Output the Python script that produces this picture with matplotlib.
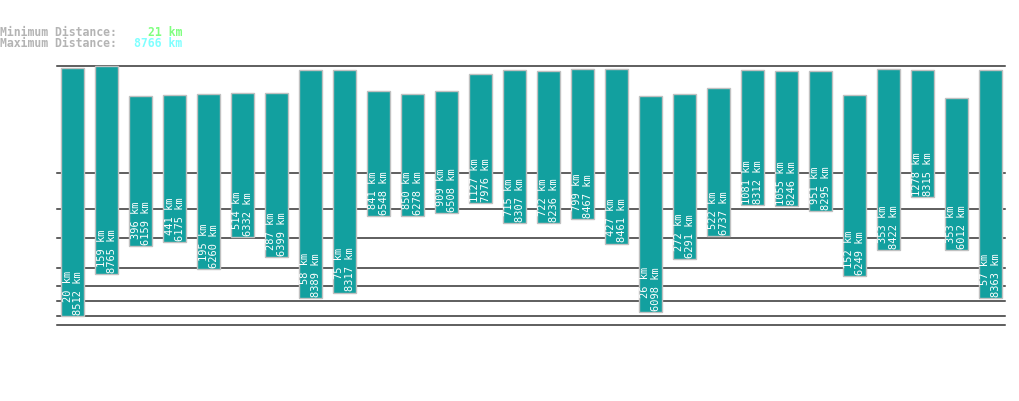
import numpy as np
import matplotlib
matplotlib.use("Agg")
import matplotlib.pyplot as plt

# distancias mínima / máxima por barra (km)
min_km = [20, 159, 396, 441, 195, 514, 287, 58, 75, 841, 850, 909, 1127, 715,
          722, 799, 427, 26, 272, 522, 1081, 1055, 951, 152, 353, 1278, 353, 57]
max_km = [8512, 8765, 6159, 6175, 6260, 6332, 6399, 8389, 8317, 6548, 6278, 6508, 7976, 8307,
          8236, 8467, 8461, 6098, 6291, 6737, 8312, 8246, 8295, 6249, 8422, 8315, 6012, 8363]
grid_km = [10, 20, 50, 100, 200, 500, 1000, 2000]
overall_min = 21
overall_max = 8766

W, H = 1019, 402
fig = plt.figure(figsize=(W / 100, H / 100), dpi=100)
ax = fig.add_axes([57 / W, 1 - 326 / H, 948 / W, (326 - 66.7) / H])

# escala tipo potencia (v**0.3)
p = 0.3
ax.set_yscale("function", functions=(lambda v: np.power(np.clip(v, 0, None), p),
                                     lambda v: np.power(np.clip(v, 0, None), 1 / p)))
ax.set_ylim(10, overall_max)
ax.set_xlim(-0.456, 27.43)

for g in grid_km + [overall_max]:
    ax.axhline(g, color="#333333", lw=1.1, zorder=1, clip_on=False)

x = np.arange(len(min_km))
lo = np.array(min_km)
hi = np.array(max_km)
ax.bar(x, hi - lo, bottom=lo, width=0.68, color="#12a09f", edgecolor="#c0c0c0",
       linewidth=1.0, zorder=2, clip_on=False)

for i, (a, b) in enumerate(zip(min_km, max_km)):
    ax.annotate(f"{a} km\n{b} km", (i, a), xytext=(0.3, 1.5), textcoords="offset points",
                rotation=90, ha="center", va="bottom", multialignment="right",
                color="white", fontsize=7.5, family="DejaVu Sans Mono",
                linespacing=1.1, zorder=3)

ax.set_axis_off()

# cabecera con mínimo / máximo
hdr = dict(fontsize=8.3, family="DejaVu Sans Mono", fontweight="bold", va="center")
fig.text(0, 1 - 32 / H, "Minimum Distance:", color="#b4b4b4", ha="left", **hdr)
fig.text(182 / W, 1 - 32 / H, f"{overall_min} km", color="#80ff80", ha="right", **hdr)
fig.text(0, 1 - 43.5 / H, "Maximum Distance:", color="#b4b4b4", ha="left", **hdr)
fig.text(182 / W, 1 - 43.5 / H, f"{overall_max} km", color="#80ffff", ha="right", **hdr)

fig.savefig("out.png", dpi=100)
